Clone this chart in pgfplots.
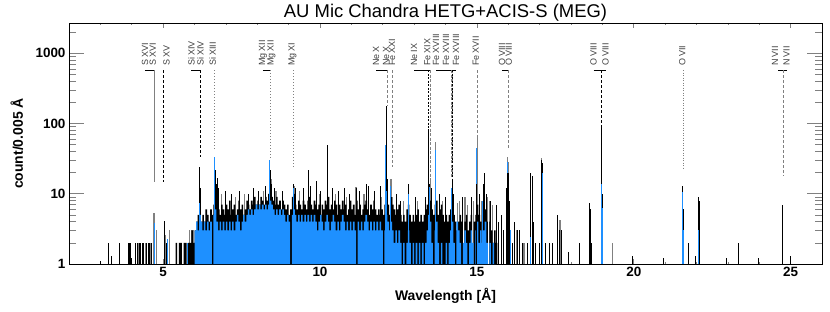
\documentclass[border=0pt]{standalone}
\usepackage{fontspec}
\setmainfont{Liberation Sans}
\usepackage{pgfplots}
\pgfplotsset{compat=1.18}
\definecolor{idlblue}{RGB}{30,144,255}
\definecolor{idlgray}{RGB}{128,128,128}
\tikzset{lbl/.style={rotate=90, anchor=west, inner sep=0pt, font=\fontsize{9}{9}\selectfont, text=black!75}}
\begin{document}
\begin{tikzpicture}
\begin{axis}[
  scale only axis, width=753bp, height=241bp,
  xmin=2, xmax=26, ymin=1, ymax=2700, ymode=log,
  axis line style={line width=0.8pt},
  tick align=inside,
  xtick={5,10,15,20,25}, xticklabels={5,10,15,20,25},
  minor xtick={3,4,6,7,8,9,11,12,13,14,16,17,18,19,21,22,23,24},
  ytick={1,10,100,1000}, yticklabels={1,10,100,1000},
  minor ytick={2,3,4,5,6,7,8,9,20,30,40,50,60,70,80,90,200,300,400,500,600,700,800,900,2000},
  xtick style={line width=0.6pt,/pgfplots/major tick length=5bp,/pgfplots/minor tick length=2.5bp},
  ytick style={line width=0.6pt,/pgfplots/major tick length=15bp,/pgfplots/minor tick length=7.5bp},
  ticklabel style={font=\fontsize{13.5}{14}\selectfont\bfseries},
  title={AU Mic Chandra HETG+ACIS-S (MEG)},
  title style={font=\fontsize{18.5}{20}\selectfont, at={(axis description cs:0.5,1)}, anchor=base, yshift=0bp},
  xlabel={Wavelength [Å]},
  xlabel style={font=\fontsize{14}{15}\selectfont\bfseries, at={(axis description cs:0.5,0)}, anchor=north, yshift=-21bp},
  ylabel={count/0.005 Å},
  ylabel style={font=\fontsize{14}{15}\selectfont\bfseries, at={(axis description cs:-0.0611,0.5)}, anchor=base},
]
% gray spectrum (drawn behind)
\addplot[ycomb, idlgray, line width=1.2pt] coordinates {
(4.20,2)(4.26,2)(4.36,2)(4.45,2)(4.55,2)(4.60,2)(4.71,5.3)(4.79,3)(5.07,2.6)(5.21,3)
(5.85,3)(5.90,3)(5.95,3)(6.63,12)(6.85,10)(7.30,9)(7.60,10)(8.20,11)(8.44,16)(8.60,11)
(9.20,13)(9.35,11)(10.00,10)(10.50,10)(10.85,9)(11.15,12.5)(11.40,10)(11.95,9)(12.08,9)
(12.26,16)(12.30,9)(12.65,8)(13.10,8)(13.52,17)(13.69,54)(13.90,8)(14.37,7.4)(14.70,7)
(14.45,8)(14.62,9)(14.90,8)(15.01,65)(15.15,8)(15.33,9)(15.40,8)(15.50,7)(15.98,33)(16.02,28)
(16.28,3)(16.50,2)(17.07,32)(17.65,4.2)(18.60,4)(19.33,2)(21.58,6)
};
% black spectrum: continuum
\addplot[const plot, fill=black, draw=none] coordinates {
(5.40,2)(5.45,1)(5.50,2)(5.55,2)(5.60,1)(5.65,2)(5.70,2)(5.75,1)(5.80,2)(5.85,2)(5.90,3)(5.95,2)
(6.00,3)(6.05,4)(6.10,5)(6.15,6)(6.20,4)(6.25,5)(6.30,4)(6.35,6)(6.40,5)(6.45,4)(6.50,6)(6.55,5)
(6.60,7)(6.65,9)(6.70,8)(6.75,6)(6.80,5)(6.85,7)(6.90,6)(6.95,5)(7.00,7)(7.05,6)(7.10,8)(7.15,5)
(7.20,6)(7.25,7)(7.30,5)(7.35,6)(7.40,8)(7.45,6)(7.50,7)(7.55,5)(7.60,6)(7.65,8)(7.70,7)(7.75,6)
(7.80,8)(7.85,7)(7.90,9)(7.95,7)(8.00,8)(8.05,7)(8.10,9)(8.15,8)(8.20,7)(8.25,9)(8.30,8)(8.35,10)
(8.40,12)(8.45,9)(8.50,8)(8.55,7)(8.60,9)(8.65,7)(8.70,8)(8.75,6)(8.80,8)(8.85,7)(8.90,6)(8.95,7)
(9.00,5)(9.05,6)(9.10,9)(9.15,10)(9.20,7)(9.25,6)(9.30,8)(9.35,7)(9.40,6)(9.45,8)(9.50,7)(9.55,6)
(9.60,8)(9.65,9)(9.70,7)(9.75,6)(9.80,8)(9.85,7)(9.90,6)(9.95,7)(10.00,5)(10.05,7)(10.10,6)(10.15,8)
(10.20,7)(10.25,9)(10.30,6)(10.35,7)(10.40,6)(10.45,8)(10.50,7)(10.55,5)(10.60,7)(10.65,6)(10.70,8)
(10.75,6)(10.80,7)(10.85,5)(10.90,6)(10.95,8)(11.00,6)(11.05,7)(11.10,5)(11.15,8)(11.20,6)(11.25,7)
(11.30,5)(11.35,6)(11.40,7)(11.45,8)(11.50,6)(11.55,5)(11.60,7)(11.65,6)(11.70,8)(11.75,6)(11.80,5)
(11.85,6)(11.90,5)(11.95,6)(12.00,5)(12.05,7)(12.10,9)(12.15,7)(12.20,5)(12.25,6)(12.30,7)(12.35,6)
(12.40,5)(12.45,6)(12.50,7)(12.55,5)(12.60,4)(12.65,5)(12.70,4)(12.75,6)(12.80,7)(12.85,5)(12.90,4)
(12.95,5)(13.00,4)(13.05,5)(13.10,6)(13.15,4)(13.20,5)(13.25,4)(13.30,5)(13.35,6)(13.40,7)(13.45,9)
(13.50,8)(13.55,6)(13.60,5)(13.65,7)(13.70,8)(13.75,5)(13.80,6)(13.85,7)(13.90,5)(13.95,4)(14.00,5)
(14.05,4)(14.10,5)(14.15,6)(14.20,7)(14.25,5)(14.30,4)(14.35,3)(14.40,4)(14.45,5)(14.50,4)(14.55,1)
(14.60,4)(14.65,5)(14.70,3)(14.75,4)(14.80,5)(14.85,1)(14.90,4)(14.95,5)(15.00,7)(15.05,5)(15.10,4)
(15.15,1)(15.20,5)(15.25,6)(15.30,4)(15.35,1)(15.40,4)(15.45,3)(15.50,2)(15.55,3)(15.60,2)(15.65,1)
} \closedcycle;
% black spectrum: narrow bins
\addplot[ycomb, black, line width=1pt] coordinates {
(3.00,1.1)(3.25,2)(3.34,1.3)(3.62,2)(3.89,2)(3.92,2)(3.96,2)(3.99,1.2)(4.12,2)(4.18,2)(4.24,2)
(4.29,2)(4.34,2)(4.39,2)(4.47,2)(4.52,2)(4.58,2)(4.63,2)(4.71,2.3)(5.03,4.1)(5.10,2)
(6.17,24)(6.19,12)(6.66,22)(6.70,14)(6.74,17)(6.78,12)(7.00,11)(7.17,10)(7.45,11)(7.72,10)
(7.87,12)(8.05,11)(8.25,13)(8.42,22)(8.47,14)(8.55,12)(8.80,11)(9.17,14)(9.23,12)(9.48,12)
(9.64,22)(9.71,13)(9.90,15)(10.03,11)(10.24,49)(10.40,12)(10.60,11)(10.77,12)(10.95,10)
(11.15,12)(11.25,11)(11.47,14)(11.55,13)(11.73,11)(11.92,13)(12.13,178)(12.16,16)(12.28,9)
(12.43,10)(12.55,8)(12.82,14)(13.03,9)(13.35,9)(13.45,83)(13.50,14)(13.56,12)(13.69,22)
(13.82,10)(14.00,9)(14.21,16)(14.26,10)(14.55,9)(14.82,9)(15.08,10)(15.20,14)
(15.23,20)(15.30,10)(15.45,8)(15.62,7)(15.70,4)(15.80,5)(15.86,3)(15.95,12)(16.00,20)
(16.03,8)(16.08,3)(16.12,2)(16.20,4)(16.28,3)(16.35,3)(16.44,2)(16.60,2)(16.72,20)(16.77,18)
(16.82,4)(16.88,2)(16.98,2)(17.05,30)(17.10,27)(17.20,2)(17.30,2)(17.40,2)(17.58,5)(17.62,3)
(17.70,3)(17.93,1.5)(18.28,2)(18.58,7.4)(18.63,6)(18.65,2)(18.97,89)(19.00,10)(19.96,1.3)
(20.95,1.2)(21.55,13)(21.60,6)(21.76,2)(21.98,1.3)(22.05,9)(22.08,8)(22.95,1.2)(23.35,2)
(23.97,1.2)(24.74,7)(24.98,1.3)
};
% blue spectrum: continuum
\addplot[const plot, fill=idlblue, draw=none] coordinates {
(6.00,3)(6.05,4)(6.10,3)(6.15,5)(6.20,4)(6.25,3)(6.30,4)(6.35,3)(6.40,4)(6.45,3)(6.50,4)(6.55,1)
(6.60,5)(6.65,6)(6.70,4)(6.75,3)(6.80,4)(6.85,3)(6.90,4)(6.95,3)(7.00,4)(7.05,3)(7.10,4)(7.15,3)
(7.20,4)(7.25,3)(7.30,4)(7.35,5)(7.40,4)(7.45,3)(7.50,4)(7.55,5)(7.60,4)(7.65,5)(7.70,6)(7.75,5)
(7.80,6)(7.85,5)(7.90,6)(7.95,7)(8.00,6)(8.05,7)(8.10,6)(8.15,7)(8.20,6)(8.25,7)(8.30,6)(8.35,7)
(8.40,8)(8.45,7)(8.50,6)(8.55,5)(8.60,6)(8.65,5)(8.70,6)(8.75,5)(8.80,6)(8.85,5)(8.90,4)(8.95,5)
(9.00,4)(9.05,1)(9.10,5)(9.15,6)(9.20,5)(9.25,4)(9.30,5)(9.35,4)(9.40,5)(9.45,4)(9.50,5)(9.55,4)
(9.60,5)(9.65,4)(9.70,5)(9.75,4)(9.80,5)(9.85,4)(9.90,3)(9.95,4)(10.00,5)(10.05,4)(10.10,3)(10.15,4)
(10.20,5)(10.25,4)(10.30,3)(10.35,4)(10.40,5)(10.45,4)(10.50,3)(10.55,4)(10.60,3)(10.65,4)(10.70,5)
(10.75,4)(10.80,3)(10.85,4)(10.90,3)(10.95,4)(11.00,3)(11.05,4)(11.10,3)(11.15,1)(11.20,4)(11.25,3)
(11.30,4)(11.35,3)(11.40,4)(11.45,5)(11.50,4)(11.55,3)(11.60,4)(11.65,3)(11.70,4)(11.75,3)(11.80,4)
(11.85,3)(11.90,4)(11.95,3)(12.00,1)(12.05,3)(12.10,5)(12.15,4)(12.20,3)(12.25,4)(12.30,3)(12.35,2)
(12.40,3)(12.45,2)(12.50,3)(12.55,2)(12.60,1)(12.65,2)(12.70,1)(12.75,2)(12.80,3)(12.85,2)(12.90,1)
(12.95,2)(13.00,1)(13.05,2)(13.10,1)(13.15,2)(13.20,1)(13.25,2)(13.30,1)(13.35,2)(13.40,3)(13.45,5)
(13.50,4)(13.55,2)(13.60,1)(13.65,3)(13.70,4)(13.75,2)(13.80,1)(13.85,2)(13.90,1)(13.95,1)(14.00,2)
(14.05,1)(14.10,2)(14.15,3)(14.20,4)(14.25,2)(14.30,1)(14.35,4)(14.40,3)(14.45,2)(14.50,1)(14.55,2)
(14.60,3)(14.65,2)(14.70,1)(14.75,2)(14.80,3)(14.85,2)(14.90,1)(14.95,3)(15.00,4)(15.05,2)(15.10,3)
(15.15,2)(15.20,3)(15.25,4)(15.30,2)(15.35,1)(15.40,2)(15.45,1)(15.50,2)(15.55,1)(15.60,1)
} \closedcycle;
% blue spectrum: narrow bins
\addplot[ycomb, idlblue, line width=1pt] coordinates {
(4.71,3.8)(5.14,2.3)(5.79,2)(6.17,7.4)(6.65,33)(8.40,30)(9.15,12)(12.08,49)(12.11,11)(12.26,13)
(12.82,10)(13.50,12.5)(13.67,42)(14.18,12)(15.00,45)(15.17,8)(15.98,28)(16.08,3)(16.72,2.4)
(17.08,20)(18.97,14)(19.00,6.3)(21.55,10.6)(21.60,3)(22.07,3)
};
% black bins lying in front of the blue
\addplot[ycomb, black, line width=1pt] coordinates {
(14.98,14)(15.96,20)(17.06,12)
};
% ---- line identifications ----
\node[lbl] at (axis cs:4.42,656) {S XVI};
\node[lbl] at (axis cs:4.67,656) {S XVI};
\draw[black, line width=0.6pt] (axis cs:4.42,575) -- (axis cs:4.73,575);
\draw[idlgray, line width=1.6pt] (axis cs:4.73,575) -- (axis cs:4.73,14.7);
\node[lbl] at (axis cs:5.11,656) {S XV};
\draw[black, line width=0.6pt, dash pattern=on 3bp off 2bp] (axis cs:5.02,575) -- (axis cs:5.02,14.5);
\node[lbl] at (axis cs:5.90,656) {Si XIV};
\node[lbl] at (axis cs:6.19,656) {Si XIV};
\draw[black, line width=0.6pt] (axis cs:5.90,575) -- (axis cs:6.18,575);
\draw[black, line width=0.8pt, dash pattern=on 3bp off 2bp] (axis cs:6.18,575) -- (axis cs:6.18,33);
\node[lbl] at (axis cs:6.58,656) {Si XIII};
\draw[idlgray, line width=0.6pt, dash pattern=on 1bp off 2bp] (axis cs:6.64,575) -- (axis cs:6.64,42);
\node[lbl] at (axis cs:8.18,656) {Mg XII};
\node[lbl] at (axis cs:8.45,656) {Mg XII};
\draw[black, line width=0.6pt] (axis cs:8.18,575) -- (axis cs:8.43,575);
\draw[idlgray, line width=0.6pt, dash pattern=on 1bp off 2bp] (axis cs:8.43,575) -- (axis cs:8.43,33);
\node[lbl] at (axis cs:9.12,656) {Mg XI};
\draw[idlgray, line width=0.6pt, dash pattern=on 1bp off 2bp] (axis cs:9.14,575) -- (axis cs:9.14,24);
\node[lbl] at (axis cs:11.79,656) {Ne X};
\node[lbl] at (axis cs:12.11,656) {Ne X};
\draw[black, line width=0.6pt] (axis cs:11.79,575) -- (axis cs:12.13,575);
\draw[idlgray, line width=0.6pt, dash pattern=on 3bp off 2bp] (axis cs:12.13,575) -- (axis cs:12.13,178);
\node[lbl] at (axis cs:12.30,656) {Fe XXI};
\draw[idlgray, line width=0.6pt, dash pattern=on 3bp off 2bp] (axis cs:12.29,575) -- (axis cs:12.29,24);
\node[lbl] at (axis cs:13.00,656) {Ne IX};
\node[lbl] at (axis cs:13.42,656) {Fe XIX};
\draw[black, line width=0.6pt] (axis cs:13.00,575) -- (axis cs:13.52,575);
\draw[idlgray, line width=1.8pt, dash pattern=on 3bp off 1.5bp] (axis cs:13.52,575) -- (axis cs:13.52,17);
\draw[black, line width=0.7pt, dash pattern=on 2bp off 1.5bp] (axis cs:13.45,575) -- (axis cs:13.45,83);
\node[lbl] at (axis cs:13.70,656) {Fe XVIII};
\node[lbl] at (axis cs:14.02,656) {Fe XVIII};
\node[lbl] at (axis cs:14.34,656) {Fe XVIII};
\draw[black, line width=0.6pt] (axis cs:13.70,575) -- (axis cs:14.34,575);
\draw[idlgray, line width=1.8pt, dash pattern=on 3bp off 1.5bp] (axis cs:14.20,575) -- (axis cs:14.20,17);
\draw[black, line width=0.7pt, dash pattern=on 2bp off 1.5bp] (axis cs:14.23,575) -- (axis cs:14.23,12.5);
\node[lbl] at (axis cs:14.97,656) {Fe XVII};
\draw[idlgray, line width=1pt, dash pattern=on 3bp off 2bp] (axis cs:15.01,575) -- (axis cs:15.01,52);
\node[lbl] at (axis cs:15.80,656) {O VIII};
\node[lbl] at (axis cs:16.02,656) {O VIII};
\draw[black, line width=0.6pt] (axis cs:15.80,575) -- (axis cs:16.01,575);
\draw[idlgray, line width=0.6pt, dash pattern=on 3bp off 2bp] (axis cs:16.01,575) -- (axis cs:16.01,42);
\node[lbl] at (axis cs:18.72,656) {O VIII};
\node[lbl] at (axis cs:19.10,656) {O VIII};
\draw[black, line width=0.6pt] (axis cs:18.72,575) -- (axis cs:19.10,575);
\draw[black, line width=0.7pt, dash pattern=on 3bp off 2bp] (axis cs:18.97,575) -- (axis cs:18.97,89);
\node[lbl] at (axis cs:21.55,656) {O VII};
\draw[idlgray, line width=1pt, dash pattern=on 1bp off 1.5bp] (axis cs:21.57,575) -- (axis cs:21.57,22);
\node[lbl] at (axis cs:24.50,656) {N VII};
\node[lbl] at (axis cs:24.87,656) {N VII};
\draw[black, line width=0.6pt] (axis cs:24.61,575) -- (axis cs:24.87,575);
\draw[idlgray, line width=0.6pt, dash pattern=on 3bp off 2bp] (axis cs:24.77,575) -- (axis cs:24.77,17.7);
\end{axis}
\pgfresetboundingbox
\path[use as bounding box] ([xshift=-69bp,yshift=-47bp]current axis.south west) rectangle ([xshift=8bp,yshift=23bp]current axis.north east);
\end{tikzpicture}
\end{document}
